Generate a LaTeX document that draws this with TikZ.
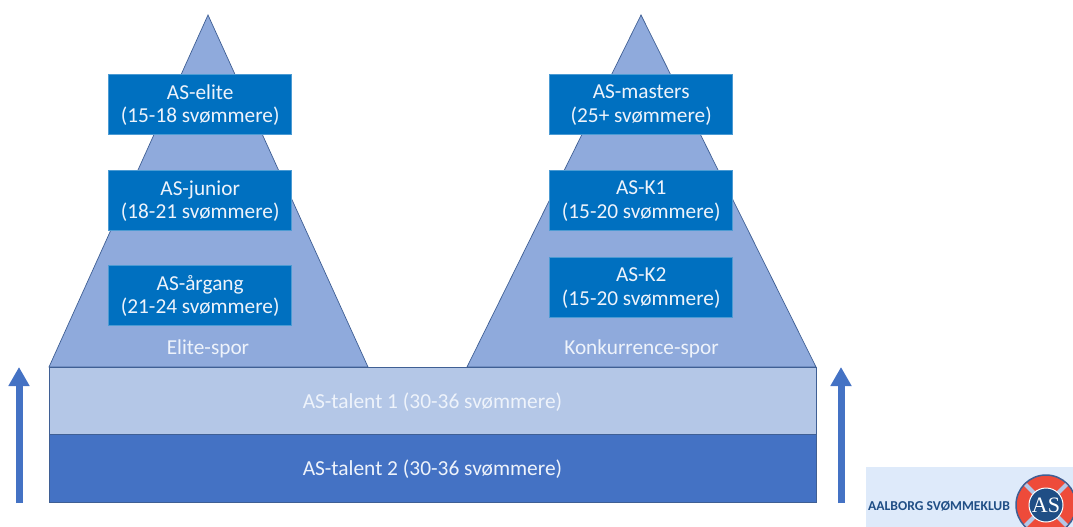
\documentclass[tikz,border=0pt]{standalone}
\usepackage{fontspec}
\setmainfont{Carlito}
\newfontfamily\logofont{Liberation Serif}
\usetikzlibrary{arrows.meta}
\definecolor{pyramidblue}{HTML}{8FAADC}
\definecolor{edgeblue}{HTML}{3F5F94}
\definecolor{boxblue}{HTML}{0070C0}
\definecolor{lightbar}{HTML}{B4C7E7}
\definecolor{darkbar}{HTML}{4472C4}
\definecolor{logobg}{HTML}{DEEAFA}
\definecolor{logotext}{HTML}{1F4E85}
\definecolor{buoyred}{HTML}{EE4B3A}
\definecolor{labelwhite}{HTML}{EEF3FB}
\tikzset{
    levelbox/.style={rectangle, fill=boxblue, draw=boxblue!70!white, line width=0.5pt, minimum width=183pt, minimum height=60pt, align=center, text=labelwhite, font=\fontsize{21.3pt}{23.5pt}\selectfont, inner sep=0pt, text depth=1pt},
    barbox/.style={rectangle, draw=edgeblue, line width=0.8pt, minimum width=767pt, minimum height=67.5pt, text=labelwhite, font=\fontsize{21.4pt}{24pt}\selectfont, inner sep=0pt, text depth=1pt},
    pyramid/.style={fill=pyramidblue, draw=edgeblue, line width=0.7pt},
    sporlabel/.style={text=labelwhite, font=\fontsize{21.3pt}{24pt}\selectfont, inner sep=0pt},
    uparrow/.style={draw=darkbar, line width=7pt, -{Triangle[length=19pt, width=20pt]}}
}
\begin{document}
\begin{tikzpicture}[x=1pt, y=-1pt]
    \useasboundingbox (0,0) rectangle (1073,527);

    \coordinate (EB) at (49,367);
    \coordinate (ET) at (208,15);
    \coordinate (EC) at (368,367);
    \coordinate (KB) at (467,367);
    \coordinate (KT) at (641,15);
    \coordinate (KC) at (816,367);
    \draw[pyramid] (EB) -- (ET) -- (EC) -- cycle;
    \draw[pyramid] (KB) -- (KT) -- (KC) -- cycle;

    \node[levelbox] (elite) at (200.2,104) {AS-elite\\(15-18 svømmere)};
    \node[levelbox] (junior) at (200.2,200) {AS-junior\\(18-21 svømmere)};
    \node[levelbox] (aargang) at (200.2,295) {AS-årgang\\(21-24 svømmere)};
    \node[levelbox] (masters) at (641.2,104) {AS-masters\\(25+ svømmere)};
    \node[levelbox] (K1) at (641.2,200) {AS-K1\\(15-20 svømmere)};
    \node[levelbox] (K2) at (641.2,287) {AS-K2\\(15-20 svømmere)};

    \node[sporlabel] (espor) at (208,349) {Elite-spor};
    \node[sporlabel] (kspor) at (641.5,349) {Konkurrence-spor};

    \node[barbox, fill=lightbar] (talent1) at (432.5,400.8) {AS-talent 1 (30-36 svømmere)};
    \node[barbox, fill=darkbar] (talent2) at (432.5,468.3) {AS-talent 2 (30-36 svømmere)};

    \coordinate (L0) at (19,503);
    \coordinate (L1) at (19,367);
    \coordinate (R0) at (841,503);
    \coordinate (R1) at (841,367);
    \draw[uparrow] (L0) -- (L1);
    \draw[uparrow] (R0) -- (R1);

    % logo
    \begin{scope}
        \clip (866,467) rectangle (1073,527);
        \fill[logobg] (866,467) rectangle (1073,527);
        \node[anchor=west, inner sep=0pt, text=logotext, font=\fontsize{13.6pt}{14pt}\selectfont\bfseries] (clubname) at (868,506) {AALBORG SVØMMEKLUB};
        \fill[buoyred, draw=edgeblue, line width=1.5pt] (1046,505) circle (30);
        \foreach \ang in {45,135,225,315}
            \draw[lightbar, line width=4pt] (1046,505) -- ++(\ang:29);
        \node[circle, fill=logotext, draw=white, line width=1pt, minimum size=34pt, inner sep=0pt, text=white, font=\fontsize{22pt}{22pt}\logofont] (buoy) at (1046,505) {AS};
    \end{scope}
\end{tikzpicture}
\end{document}
